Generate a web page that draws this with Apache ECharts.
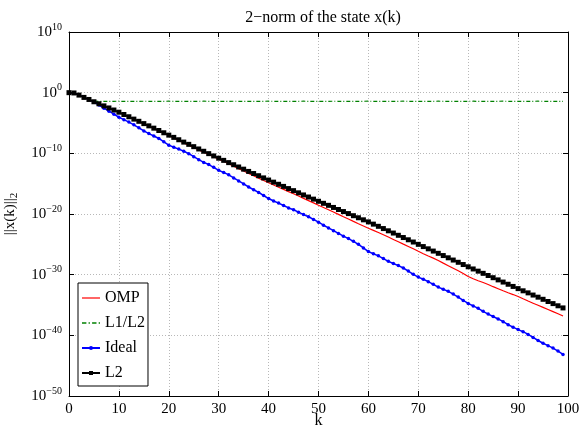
<!DOCTYPE html>
<html>
<head>
<meta charset="utf-8">
<script src="https://cdn.jsdelivr.net/npm/echarts@6/dist/echarts.min.js"></script>
<style>
  html, body { margin: 0; padding: 0; background: #fff; }
  #chart { width: 579px; height: 426px; }
</style>
</head>
<body>
<div id="chart"></div>
<script>
// Time steps k = 0 … 99
const steps = Array.from({ length: 100 }, (_, i) => i);

// log10 of ||x(k)||_2 for each controller
const ompLog10 = [
  0, -0.05, -0.42, -0.80, -1.15, -1.53, -1.86, -2.21, -2.56, -2.90,
  -3.26, -3.64, -4.02, -4.41, -4.78, -5.16, -5.54, -5.93, -6.32, -6.70,
  -7.10, -7.48, -7.88, -8.28, -8.66, -9.05, -9.43, -9.80, -10.19, -10.57,
  -10.95, -11.33, -11.73, -12.12, -12.52, -12.91, -13.32, -13.70, -14.08, -14.47,
  -14.85, -15.22, -15.58, -15.94, -16.31, -16.66, -17.04, -17.43, -17.80, -18.17,
  -18.55, -18.92, -19.30, -19.68, -20.06, -20.45, -20.83, -21.22, -21.60, -21.97,
  -22.35, -22.70, -23.06, -23.43, -23.80, -24.19, -24.58, -24.97, -25.35, -25.74,
  -26.15, -26.55, -26.93, -27.28, -27.66, -28.10, -28.52, -28.94, -29.36, -29.80,
  -30.30, -30.68, -31.00, -31.30, -31.62, -31.98, -32.32, -32.66, -32.98, -33.28,
  -33.60, -33.98, -34.35, -34.70, -35.05, -35.40, -35.75, -36.10, -36.45, -36.82
];

const l1l2Log10 = [
  0, -0.05, -0.40, -0.80, -1.15, -1.40, -1.43, -1.42, -1.44, -1.42,
  -1.41, -1.43, -1.42, -1.44, -1.43, -1.41, -1.42, -1.43, -1.44, -1.42,
  -1.41, -1.42, -1.43, -1.42, -1.44, -1.43, -1.42, -1.41, -1.42, -1.43,
  -1.44, -1.42, -1.43, -1.41, -1.42, -1.43, -1.42, -1.44, -1.43, -1.42,
  -1.41, -1.42, -1.43, -1.44, -1.42, -1.43, -1.42, -1.41, -1.43, -1.42,
  -1.44, -1.43, -1.42, -1.41, -1.42, -1.43, -1.44, -1.42, -1.43, -1.42,
  -1.41, -1.42, -1.43, -1.42, -1.44, -1.43, -1.42, -1.41, -1.42, -1.43,
  -1.44, -1.42, -1.43, -1.42, -1.41, -1.42, -1.43, -1.44, -1.42, -1.43,
  -1.42, -1.41, -1.43, -1.42, -1.44, -1.43, -1.42, -1.41, -1.42, -1.43,
  -1.42, -1.44, -1.43, -1.42, -1.41, -1.42, -1.43, -1.42, -1.44, -1.43
];

const idealLog10 = [
  0, -0.05, -0.40, -0.78, -1.14, -1.55, -2.05, -2.55, -3.05, -3.55,
  -4.05, -4.45, -4.85, -5.30, -5.80, -6.30, -6.75, -7.15, -7.55, -8.10,
  -8.65, -9.00, -9.30, -9.65, -10.05, -10.55, -11.05, -11.50, -11.85, -12.30,
  -12.80, -13.15, -13.55, -14.05, -14.55, -15.05, -15.55, -16.00, -16.45, -16.95,
  -17.45, -17.85, -18.20, -18.60, -19.00, -19.30, -19.70, -20.10, -20.45, -20.90,
  -21.35, -21.85, -22.30, -22.75, -23.20, -23.65, -24.05, -24.50, -25.00, -25.60,
  -26.20, -26.55, -26.90, -27.35, -27.80, -28.15, -28.50, -28.90, -29.40, -29.95,
  -30.40, -30.75, -31.15, -31.60, -32.05, -32.40, -32.75, -33.20, -33.70, -34.25,
  -34.75, -35.15, -35.55, -36.05, -36.50, -36.90, -37.30, -37.75, -38.25, -38.65,
  -39.05, -39.40, -39.85, -40.35, -40.85, -41.30, -41.70, -42.10, -42.60, -43.15
];

const l2Log10 = [
  0, -0.05, -0.40, -0.78, -1.12, -1.50, -1.83, -2.18, -2.52, -2.86,
  -3.22, -3.60, -3.97, -4.36, -4.72, -5.10, -5.47, -5.85, -6.24, -6.61,
  -7.00, -7.37, -7.76, -8.15, -8.52, -8.90, -9.28, -9.66, -10.05, -10.43,
  -10.80, -11.16, -11.53, -11.88, -12.25, -12.61, -12.98, -13.33, -13.69, -14.05,
  -14.40, -14.75, -15.10, -15.45, -15.81, -16.15, -16.51, -16.86, -17.20, -17.55,
  -17.90, -18.24, -18.57, -18.92, -19.26, -19.60, -19.93, -20.28, -20.62, -20.96,
  -21.30, -21.67, -22.03, -22.40, -22.77, -23.14, -23.51, -23.88, -24.25, -24.62,
  -25.00, -25.37, -25.74, -26.11, -26.48, -26.85, -27.22, -27.59, -27.96, -28.33,
  -28.70, -29.06, -29.42, -29.78, -30.14, -30.50, -30.86, -31.22, -31.58, -31.94,
  -32.30, -32.66, -33.00, -33.36, -33.71, -34.06, -34.42, -34.77, -35.13, -35.48
];

const seriesNames = ['OMP', 'L1/L2', 'Ideal', 'L2'];
const titleText = '2\u2212norm of the state x(k)';

// y range: 1e-50 … 1e10 (lower bound nudged so the 1e-50 tick survives float rounding)
const yMin = 0.9999e-50;
const yMax = 1e10;

const SERIF = '"Liberation Serif", "Times New Roman", serif';

// pair each step with the norm value for the log axis
const toPoints = (exps) => steps.map((k, i) => [k, Math.pow(10, exps[i])]);

const powerLabel = (v) => {
  const e = Math.round(Math.log10(v));
  const txt = e < 0 ? '\u2212' + (-e) : String(e);
  return '{b|10}{s|' + txt + '}';
};

// legend swatches: plain line for OMP, dash-dot for L1/L2, line+marker for the others
const solidSwatch = 'path://M0,0h18v1.2h-18z';
const dashDotSwatch = 'path://M0,0h4v1.2h-4z M6,0h1.2v1.2h-1.2z M9.2,0h4v1.2h-4z M15.2,0h1.2v1.2h-1.2z';

const chart = echarts.init(document.getElementById('chart'), null, { renderer: 'canvas' });

const gridLine = { show: true, lineStyle: { color: '#b8b8b8', width: 1, type: [1, 2] } };
const frameLine = { show: true, onZero: false, lineStyle: { color: '#000', width: 1 } };
const innerTick = { show: true, inside: true, length: 5, lineStyle: { color: '#000', width: 1 } };

chart.setOption({
  animation: false,
  backgroundColor: '#fff',
  title: {
    text: titleText,
    left: 318,
    textAlign: 'center',
    top: 5,
    textStyle: { fontFamily: SERIF, fontSize: 16, fontWeight: 'normal', color: '#000' }
  },
  grid: { left: 69, right: 11, top: 32, bottom: 30, containLabel: false, outerBoundsMode: 'none' },
  legend: {
    data: [
      { name: seriesNames[0], icon: solidSwatch },
      { name: seriesNames[1], icon: dashDotSwatch },
      { name: seriesNames[2] },
      { name: seriesNames[3] }
    ],
    orient: 'vertical',
    left: 78,
    top: 283,
    itemWidth: 18,
    itemHeight: 5,
    itemGap: 9,
    padding: [7, 3, 5, 3],
    borderColor: '#000',
    borderWidth: 1,
    backgroundColor: '#fff',
    textStyle: { fontFamily: SERIF, fontSize: 16, color: '#000', lineHeight: 16 }
  },
  xAxis: [
    {
      type: 'value',
      gridIndex: 0,
      min: 0,
      max: 100,
      interval: 10,
      name: 'k',
      nameLocation: 'middle',
      nameGap: 17,
      nameMoveOverlap: false,
      nameTextStyle: { fontFamily: SERIF, fontSize: 16, color: '#000' },
      axisLine: frameLine,
      axisTick: innerTick,
      axisLabel: { fontFamily: SERIF, fontSize: 15, color: '#000', margin: 6 },
      splitLine: gridLine
    },
    {
      type: 'value',
      gridIndex: 0,
      position: 'top',
      min: 0,
      max: 100,
      interval: 10,
      axisLine: frameLine,
      axisTick: innerTick,
      axisLabel: { show: false },
      splitLine: { show: false }
    }
  ],
  yAxis: [
    {
      type: 'log',
      gridIndex: 0,
      logBase: 10,
      min: yMin,
      max: yMax,
      splitNumber: 6,
      name: '{n|||x(k)||}{sub|2}',
      nameLocation: 'middle',
      nameRotate: 90,
      nameGap: 49,
      nameMoveOverlap: false,
      nameTextStyle: {
        color: '#000',
        rich: {
          n: { fontFamily: SERIF, fontSize: 15, color: '#000' },
          sub: { fontFamily: SERIF, fontSize: 11, color: '#000', padding: [9, 0, 0, 0] }
        }
      },
      axisLine: frameLine,
      axisTick: innerTick,
      minorTick: { show: false },
      axisLabel: {
        margin: 7,
        showMinLabel: true,
        showMaxLabel: true,
        hideOverlap: false,
        formatter: powerLabel,
        rich: {
          b: { fontFamily: SERIF, fontSize: 15, color: '#000' },
          s: { fontFamily: SERIF, fontSize: 10, color: '#000', padding: [0, 0, 10, 0] }
        }
      },
      splitLine: gridLine
    },
    {
      type: 'log',
      gridIndex: 0,
      logBase: 10,
      position: 'right',
      min: yMin,
      max: yMax,
      splitNumber: 6,
      axisLine: frameLine,
      axisTick: innerTick,
      axisLabel: { show: false },
      splitLine: { show: false }
    }
  ],
  series: [
    {
      name: 'OMP',
      type: 'line',
      data: toPoints(ompLog10),
      symbol: 'none',
      lineStyle: { color: '#ff0000', width: 1.2 },
      itemStyle: { color: '#ff0000' }
    },
    {
      name: 'L1/L2',
      type: 'line',
      data: toPoints(l1l2Log10),
      symbol: 'none',
      lineStyle: { color: '#008000', width: 1.2, type: [4, 2, 1, 2] },
      itemStyle: { color: '#008000' }
    },
    {
      name: 'Ideal',
      type: 'line',
      data: toPoints(idealLog10),
      symbol: 'circle',
      symbolSize: 3.5,
      lineStyle: { color: '#0000ff', width: 1.5 },
      itemStyle: { color: '#0000ff' }
    },
    {
      name: 'L2',
      type: 'line',
      data: toPoints(l2Log10),
      symbol: 'rect',
      symbolSize: 5,
      lineStyle: { color: '#000', width: 1.5 },
      itemStyle: { color: '#000' }
    }
  ]
});
</script>
</body>
</html>
